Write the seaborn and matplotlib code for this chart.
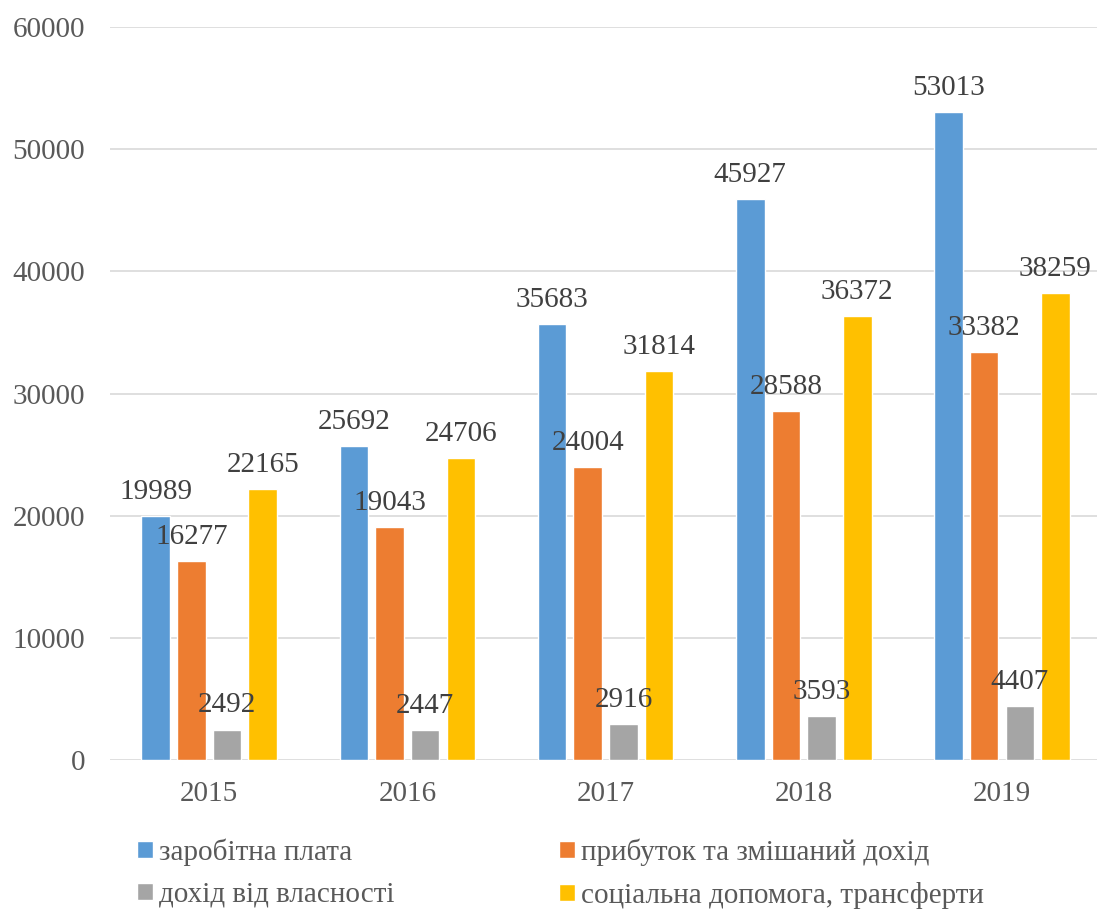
import numpy as np
import pandas as pd
import matplotlib.pyplot as plt
import seaborn as sns
from matplotlib.patches import Patch

# data
years = ['2015', '2016', '2017', '2018', '2019']
series = ['заробітна плата', 'прибуток та змішаний дохід',
          'дохід від власності', 'соціальна допомога, трансферти']
wages = [19989, 25692, 35683, 45927, 53013]
profit = [16277, 19043, 24004, 28588, 33382]
property_inc = [2492, 2447, 2916, 3593, 4407]
social = [22165, 24706, 31814, 36372, 38259]
colors = ['#5B9BD5', '#ED7D31', '#A5A5A5', '#FFC000']

# long form table for seaborn
df = pd.DataFrame({
    'year': years * 4,
    'series': np.repeat(series, len(years)),
    'value': wages + profit + property_inc + social,
})

sns.set_style('white')
plt.rcParams['font.family'] = ['Liberation Serif', 'DejaVu Serif']

fig = plt.figure(figsize=(10.97, 9.13), dpi=100)
ax = fig.add_axes([0.1003, 0.1676, 0.9034, 0.8028])

sns.barplot(data=df, x='year', y='value', hue='series', hue_order=series,
            palette=colors, width=0.72, gap=0.2, saturation=1,
            legend=False, ax=ax)

# value labels above bars
for cont in ax.containers:
    ax.bar_label(cont, fmt='%d', padding=8, fontsize=21, color='#404040')

ax.set_ylim(0, 60000)
ax.set_yticks(range(0, 60001, 10000))
ax.yaxis.grid(True, color='#D9D9D9', linewidth=1.2)
ax.set_axisbelow(True)
for s in ax.spines.values():
    s.set_visible(False)
ax.set_xlabel('')
ax.set_ylabel('')
ax.tick_params(axis='y', length=0, pad=18, labelsize=21, labelcolor='#595959')
ax.tick_params(axis='x', length=0, pad=15, labelsize=21, labelcolor='#595959')

# legend, filled column-wise
order = [0, 2, 1, 3]
handles = [Patch(facecolor=colors[i]) for i in order]
labels = [series[i] for i in order]
fig.legend(handles, labels, ncol=2, loc='upper left',
           bbox_to_anchor=(0.125, 0.082), frameon=False,
           fontsize=21, labelcolor='#595959', handlelength=0.55,
           handleheight=0.55, handletextpad=0.2, columnspacing=5.65,
           labelspacing=0.55, borderpad=0, borderaxespad=0)

fig.savefig('out.png', dpi=100)
